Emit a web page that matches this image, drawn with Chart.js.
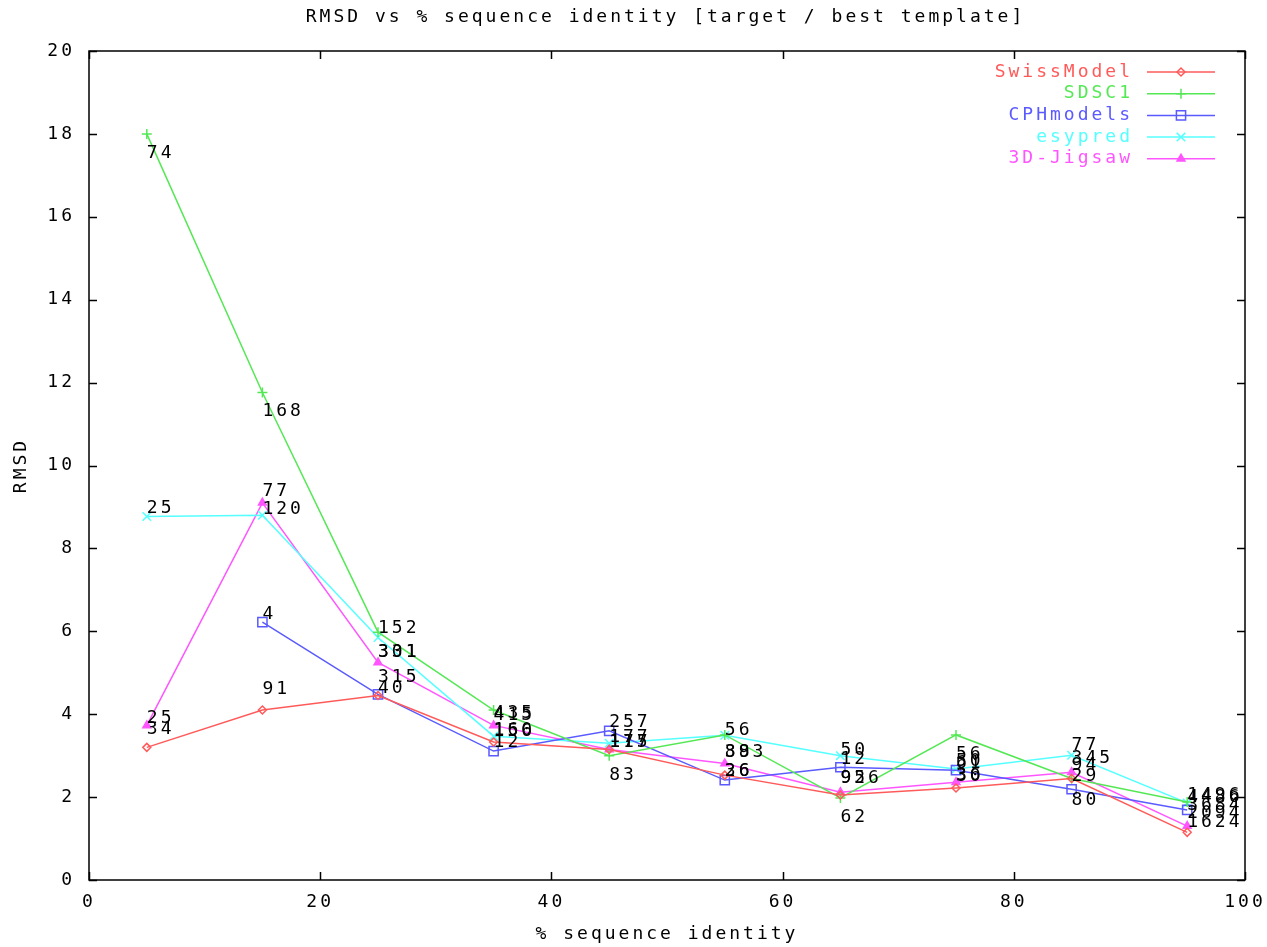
<!DOCTYPE html>
<html>
<head>
<meta charset="utf-8">
<script src="https://cdn.jsdelivr.net/npm/chart.js"></script>
<style>
  html, body { margin: 0; padding: 0; background: #fff; }
  #wrap { width: 1267px; height: 947px; position: relative; }
</style>
</head>
<body>
<div id="wrap"><canvas id="c"></canvas></div>
<script>
// ---- data ----
const identity = [5, 15, 25, 35, 45, 55, 65, 75, 85, 95];

const swissRmsd   = [3.2, 4.1, 4.45, 3.33, 3.15, 2.53, 2.05, 2.22, 2.45, 1.15];
const sdscRmsd    = [18.0, 11.76, 5.98, 4.1, 3.0, 3.5, 1.98, 3.5, 2.45, 1.88];
const cphRmsd     = [null, 6.22, 4.48, 3.11, 3.6, 2.41, 2.72, 2.65, 2.19, 1.69];
const esypredRmsd = [8.77, 8.8, 5.85, 3.47, 3.3, 3.49, 3.0, 2.68, 3.01, 1.86];
const jigsawRmsd  = [3.73, 9.1, 5.25, 3.73, 3.15, 2.81, 2.12, 2.36, 2.6, 1.3];

// point count labels and the RMSD level at which each label sits
const swissCount   = ["34", "91", "40", "12", "117", "36", "95", "30", "94", "1624"];
const swissLabelY  = [3.64, 4.61, 4.63, 3.31, 3.31, 2.61, 2.46, 2.51, 2.77, 1.38];
const sdscCount    = ["74", "168", "152", "435", "83", "88", "62", "56", "29", "1496"];
const sdscLabelY   = [17.54, 11.31, 6.08, 4.03, 2.53, 3.09, 1.50, 3.02, 2.51, 2.05];
const cphCount     = [null, "4", "315", "156", "257", "26", "12", "61", "80", "3684"];
const cphLabelY    = [null, 6.42, 4.90, 3.59, 3.81, 2.61, 2.90, 2.82, 1.93, 1.81];
const esypredCount = ["25", "120", "331", "160", "177", "56", "50", "50", "77", "4486"];
const esypredLabelY= [8.97, 8.95, 5.50, 3.62, 3.43, 3.62, 3.14, 2.87, 3.26, 2.00];
const jigsawCount  = ["25", "77", "301", "415", "175", "393", "926", "36", "345", "2094"];
const jigsawLabelY = [3.91, 9.38, 5.50, 3.98, 3.33, 3.09, 2.46, 2.53, 2.94, 1.62];

const seriesNames = ["SwissModel", "SDSC1", "CPHmodels", "esypred", "3D-Jigsaw"];
const xTickValues = [0, 20, 40, 60, 80, 100];
const yTickValues = [0, 2, 4, 6, 8, 10, 12, 14, 16, 18, 20];
const chartTitle = 'RMSD vs % sequence identity [target / best template]';

// ---- build ----
const FONT = "'DejaVu Sans Mono', 'Liberation Mono', monospace";
const FS = 18;
const LS = 3; // letter spacing px
Chart.defaults.font.family = FONT;
Chart.defaults.font.size = FS;
Chart.defaults.color = '#000';

function pts(vals) {
  return identity.map((x, i) => ({ x: x, y: vals[i] }));
}

const styles = [
  { color: '#ff5a5a', pointStyle: 'rectRot', radius: 4, fill: 'rgba(0,0,0,0)' },
  { color: '#55e855', pointStyle: 'cross', radius: 5, fill: 'rgba(0,0,0,0)' },
  { color: '#5a5aff', pointStyle: 'rect', radius: 6.5, fill: 'rgba(0,0,0,0)' },
  { color: '#55ffff', pointStyle: 'crossRot', radius: 6, fill: 'rgba(0,0,0,0)' },
  { color: '#ff55ff', pointStyle: 'triangle', radius: 4.5, fill: '#ff55ff' }
];
const values = [swissRmsd, sdscRmsd, cphRmsd, esypredRmsd, jigsawRmsd];
const counts = [swissCount, sdscCount, cphCount, esypredCount, jigsawCount];
const labelYs = [swissLabelY, sdscLabelY, cphLabelY, esypredLabelY, jigsawLabelY];

const datasets = seriesNames.map((name, k) => ({
  label: name,
  data: pts(values[k]),
  borderColor: styles[k].color,
  backgroundColor: styles[k].fill,
  pointBorderColor: styles[k].color,
  pointBackgroundColor: styles[k].fill,
  pointStyle: styles[k].pointStyle,
  pointRadius: styles[k].radius,
  pointBorderWidth: 1.5,
  borderWidth: 1.5,
  tension: 0,
  spanGaps: false,
  fill: false
}));

const spacingPlugin = {
  id: 'spacing',
  beforeUpdate(chart) { chart.ctx.letterSpacing = LS + 'px'; },
  beforeLayout(chart) { chart.ctx.letterSpacing = LS + 'px'; },
  beforeDraw(chart) { chart.ctx.letterSpacing = LS + 'px'; }
};

const framePlugin = {
  id: 'frame',
  afterDatasetsDraw(chart) {
    const ctx = chart.ctx;
    const a = chart.chartArea;
    const xs = chart.scales.x, ys = chart.scales.y;
    ctx.save();
    ctx.letterSpacing = LS + 'px';
    ctx.font = FS + 'px ' + FONT;
    // title
    ctx.fillStyle = '#000';
    ctx.textAlign = 'center';
    ctx.textBaseline = 'middle';
    ctx.fillText(chartTitle, (a.left + a.right) / 2 + LS / 2 - 3, 17);
    // count labels
    ctx.textAlign = 'left';
    counts.forEach((arr, k) => {
      arr.forEach((t, i) => {
        if (t === null) return;
        ctx.fillText(t, xs.getPixelForValue(identity[i]), ys.getPixelForValue(labelYs[k][i]));
      });
    });
    // border
    ctx.strokeStyle = '#000';
    ctx.lineWidth = 1.5;
    ctx.strokeRect(a.left, a.top, a.right - a.left, a.bottom - a.top);
    // inward ticks, mirrored
    const TL = 8;
    ctx.beginPath();
    yTickValues.forEach(v => {
      const p = Math.round(ys.getPixelForValue(v)) + 0.5;
      ctx.moveTo(a.left, p); ctx.lineTo(a.left + TL, p);
      ctx.moveTo(a.right, p); ctx.lineTo(a.right - TL, p);
    });
    xTickValues.forEach(v => {
      const p = Math.round(xs.getPixelForValue(v)) + 0.5;
      ctx.moveTo(p, a.bottom); ctx.lineTo(p, a.bottom - TL);
      ctx.moveTo(p, a.top); ctx.lineTo(p, a.top + TL);
    });
    ctx.stroke();

    // legend (top right, inside)
    const rowH = 21.7;
    const lineEnd = a.right - 30;
    const lineStart = lineEnd - 68;
    const textRight = lineStart - 17 + LS;
    chart.data.datasets.forEach((ds, k) => {
      const y = a.top + 21 + k * rowH;
      ctx.strokeStyle = ds.borderColor;
      ctx.lineWidth = 1.5;
      ctx.beginPath();
      ctx.moveTo(lineStart, y); ctx.lineTo(lineEnd, y);
      ctx.stroke();
      const mx = (lineStart + lineEnd) / 2;
      if (Chart.helpers && Chart.helpers.drawPoint) {
        ctx.fillStyle = ds.pointBackgroundColor;
        Chart.helpers.drawPoint(ctx, {
          pointStyle: ds.pointStyle, radius: ds.pointRadius, rotation: 0, borderWidth: 1.5
        }, mx, y);
      }
      ctx.fillStyle = ds.borderColor;
      ctx.font = FS + 'px ' + FONT;
      ctx.textAlign = 'right';
      ctx.textBaseline = 'middle';
      ctx.fillText(ds.label, textRight, y);
    });
    ctx.restore();
  }
};

new Chart(document.getElementById('c'), {
  type: 'line',
  data: { datasets: datasets },
  plugins: [spacingPlugin, framePlugin],
  options: {
    responsive: true,
    maintainAspectRatio: false,
    animation: false,
    layout: { padding: { left: 0, right: 22, top: 51, bottom: 0 } },
    plugins: {
      legend: { display: false },
      tooltip: { enabled: false },
      title: { display: false }
    },
    scales: {
      x: {
        type: 'linear',
        min: 0, max: 100,
        afterFit(s) { s.height = 67; s.paddingLeft = 0; s.paddingRight = 0; },
        afterBuildTicks(s) { s.ticks = xTickValues.map(v => ({ value: v })); },
        ticks: { padding: 12, color: '#000', font: { family: FONT, size: FS }, maxRotation: 0 },
        grid: { display: false, drawTicks: false },
        border: { display: false },
        title: {
          display: true, text: '% sequence identity', color: '#000',
          font: { family: FONT, size: FS }, padding: { top: 0, bottom: 1.5 }
        }
      },
      y: {
        type: 'linear',
        min: 0, max: 20,
        afterFit(s) { s.width = 89; s.paddingTop = 0; s.paddingBottom = 0; },
        afterBuildTicks(s) { s.ticks = yTickValues.map(v => ({ value: v })); },
        ticks: { padding: 14, color: '#000', font: { family: FONT, size: FS } },
        grid: { display: false, drawTicks: false },
        border: { display: false },
        title: {
          display: true, text: 'RMSD', color: '#000',
          font: { family: FONT, size: FS }, padding: { top: 11, bottom: 0 }
        }
      }
    }
  }
});
</script>
</body>
</html>
